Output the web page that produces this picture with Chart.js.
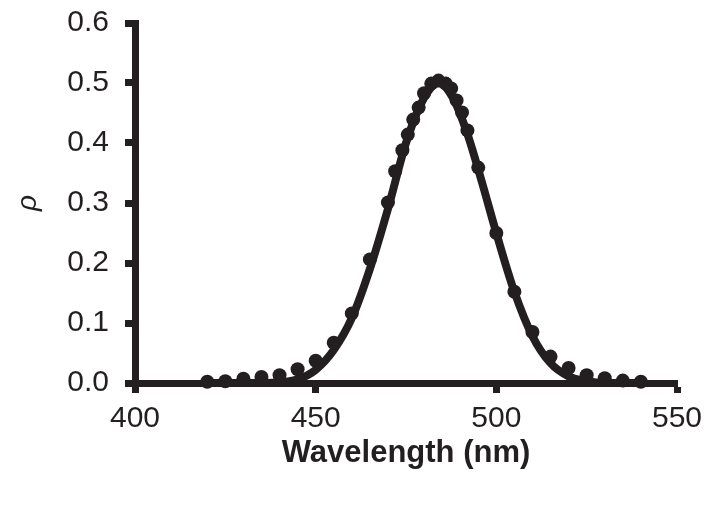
<!DOCTYPE html>
<html>
<head>
<meta charset="utf-8">
<script src="https://cdn.jsdelivr.net/npm/chart.js@4/dist/chart.umd.min.js"></script>
<style>
  html, body { margin: 0; padding: 0; background: #ffffff; }
  #wrap { width: 720px; height: 508px; }
</style>
</head>
<body>
<div id="wrap"><canvas id="c" width="720" height="508"></canvas></div>
<script>
// Measured points (wavelength in nm, rho)
const pointWavelengths = [420, 425, 430, 435, 440, 445, 450, 455, 460, 465, 470, 472, 474, 475.5, 477, 478.5, 480, 482, 484, 486, 487.5, 489, 490.5, 492, 495, 500, 505, 510, 515, 520, 525, 530, 535, 540];
const pointRho = [0.002, 0.003, 0.007, 0.010, 0.013, 0.023, 0.037, 0.067, 0.116, 0.206, 0.301, 0.353, 0.388, 0.414, 0.439, 0.459, 0.483, 0.499, 0.504, 0.499, 0.491, 0.471, 0.451, 0.421, 0.359, 0.250, 0.152, 0.085, 0.044, 0.025, 0.013, 0.008, 0.004, 0.002];

// Fitted curve
const fitWavelengths = [420, 430, 440, 445, 450, 455, 460, 465, 470, 475, 480, 484, 488, 492, 496, 500, 505, 510, 515, 520, 525, 530, 540];
const fitRho = [0, 0, 0.001, 0.006, 0.022, 0.055, 0.108, 0.190, 0.290, 0.400, 0.475, 0.500, 0.475, 0.415, 0.335, 0.250, 0.152, 0.078, 0.033, 0.011, 0.003, 0, 0];

// Axis ticks
const xTicks = [400, 450, 500, 550];
const yTicks = [0.0, 0.1, 0.2, 0.3, 0.4, 0.5, 0.6];

const INK = '#231f20';

const ptsData = pointWavelengths.map((x, i) => ({ x: x, y: pointRho[i] }));
const fitData = fitWavelengths.map((x, i) => ({ x: x, y: fitRho[i] }));

new Chart(document.getElementById('c'), {
  type: 'scatter',
  data: {
    datasets: [
      {
        label: 'points',
        data: ptsData,
        showLine: false,
        pointRadius: 7,
        pointHoverRadius: 7,
        pointBackgroundColor: INK,
        pointBorderColor: INK,
        pointBorderWidth: 0,
        clip: false,
        order: 2
      },
      {
        label: 'fit',
        data: fitData,
        showLine: true,
        borderColor: INK,
        borderWidth: 8,
        pointRadius: 0,
        cubicInterpolationMode: 'monotone',
        borderCapStyle: 'round',
        borderJoinStyle: 'round',
        clip: false,
        order: 1
      }
    ]
  },
  options: {
    responsive: false,
    animation: false,
    devicePixelRatio: 1,
    layout: { padding: { top: 23, right: 43, left: 0, bottom: 0 } },
    plugins: { legend: { display: false }, tooltip: { enabled: false } },
    scales: {
      x: {
        type: 'linear',
        min: xTicks[0],
        max: xTicks[xTicks.length - 1],
        afterFit: (s) => { s.height = 125; s.paddingLeft = 0; s.paddingRight = 0; },
        afterBuildTicks: (s) => { s.ticks = xTicks.map(v => ({ value: v })); },
        ticks: {
          color: INK,
          font: { family: 'Liberation Sans, Arial, sans-serif', size: 30 },
          padding: 8,
          maxRotation: 0,
          callback: (v) => String(v)
        },
        grid: {
          display: true,
          drawOnChartArea: false,
          drawTicks: true,
          tickLength: 10,
          tickWidth: 7,
          tickColor: INK
        },
        border: { display: true, color: INK, width: 7 },
        title: {
          display: true,
          text: 'Wavelength (nm)',
          color: INK,
          font: { family: 'Liberation Sans, Arial, sans-serif', size: 31, weight: 'bold' },
          padding: { top: 0, bottom: 36 }
        }
      },
      y: {
        type: 'linear',
        min: yTicks[0],
        max: yTicks[yTicks.length - 1],
        afterFit: (s) => { s.width = 135; s.paddingTop = 0; s.paddingBottom = 0; },
        afterBuildTicks: (s) => { s.ticks = yTicks.map(v => ({ value: v })); },
        ticks: {
          color: INK,
          font: { family: 'Liberation Sans, Arial, sans-serif', size: 30 },
          padding: 16,
          callback: (v) => Number(v).toFixed(1)
        },
        grid: {
          display: true,
          drawOnChartArea: false,
          drawTicks: true,
          tickLength: 10,
          tickWidth: 7,
          tickColor: INK
        },
        border: { display: true, color: INK, width: 7 },
        title: {
          display: true,
          text: 'ρ',
          color: INK,
          font: { family: 'Liberation Sans, Arial, sans-serif', size: 28, style: 'italic' },
          padding: { top: 11, bottom: 0 }
        }
      }
    }
  }
});
</script>
</body>
</html>
